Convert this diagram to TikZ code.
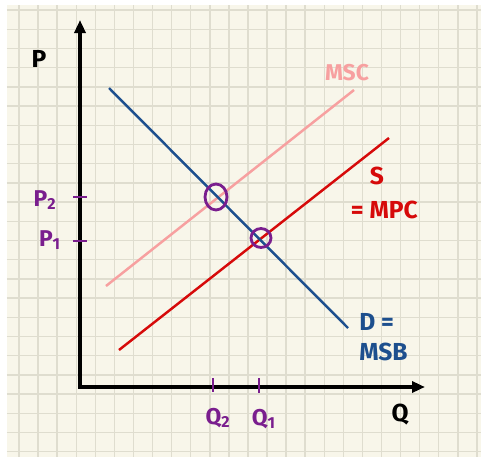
\documentclass[tikz,border=0pt]{standalone}
\usepackage{fontspec}
\setmainfont{Fira Sans}
\usetikzlibrary{positioning, arrows.meta}

\definecolor{paper}{HTML}{F8F6EA}
\definecolor{gridgrey}{HTML}{DFDDCF}
\definecolor{msbblue}{HTML}{1D4F8E}
\definecolor{mpcred}{HTML}{D60A0A}
\definecolor{mscpink}{HTML}{F7A0A0}
\definecolor{eqpurple}{HTML}{7A1E8E}

\begin{document}
\begin{tikzpicture}[
    x=0.02cm, y=-0.02cm,
    % --- Styles ---
    gridline/.style={
        draw=gridgrey,
        line width=0.8pt
    },
    axis/.style={
        line width=2pt,
        {Triangle[length=2.6mm, width=2.2mm]}-{Triangle[length=2.6mm, width=2.2mm]}
    },
    curve/.style={
        line width=1.4pt
    },
    tick/.style={
        draw=eqpurple,
        line width=1.6pt
    },
    ring/.style={
        draw=eqpurple,
        line width=1.6pt
    },
    lbl/.style={
        inner sep=0pt,
        font=\fontsize{14}{16}\selectfont\bfseries
    },
    lblsmall/.style={
        inner sep=0pt,
        font=\fontsize{13}{15}\selectfont\bfseries
    }
]

% --- Paper ---
\useasboundingbox (0,0) rectangle (481,457);
\fill[white] (0,0) rectangle (481,457);
\fill[paper] (7,5) rectangle (481,457);
\foreach \i in {0,...,24}
    \draw[gridline] ({19+\i*19.08},5) -- ({19+\i*19.08},457);
\foreach \j in {0,...,23}
    \draw[gridline] (7,{10+\j*19.2}) -- (481,{10+\j*19.2});

% --- Coordinates ---
\coordinate (origin) at (80,387);
\coordinate (ytop) at (80,20);
\coordinate (xend) at (425,387);

\coordinate (msbstart) at (109,88);
\coordinate (msbend) at (348,328);
\coordinate (mscstart) at (106,286);
\coordinate (mscend) at (354,90);
\coordinate (mpcstart) at (119,350);
\coordinate (mpcend) at (389,138);

\coordinate (eqtwo) at (216,197);
\coordinate (eqone) at (261,238);

% --- Axes ---
\draw[axis] (ytop) -- (origin) -- (xend);

% --- Curves ---
\draw[curve, mscpink] (mscstart) -- (mscend);
\draw[curve, mpcred] (mpcstart) -- (mpcend);
\draw[curve, msbblue] (msbstart) -- (msbend);

% --- Equilibria ---
\draw[ring] (eqtwo) ellipse [x radius=11, y radius=13];
\draw[ring] (eqone) ellipse [x radius=10, y radius=9.5];

% --- Ticks ---
\coordinate (ptwoa) at (73,197);
\coordinate (ptwob) at (87,197);
\coordinate (ponea) at (73,241);
\coordinate (poneb) at (87,241);
\coordinate (qtwoa) at (213,378);
\coordinate (qtwob) at (213,392);
\coordinate (qonea) at (259,378);
\coordinate (qoneb) at (259,393);
\draw[tick] (ptwoa) -- (ptwob);
\draw[tick] (ponea) -- (poneb);
\draw[tick] (qtwoa) -- (qtwob);
\draw[tick] (qonea) -- (qoneb);

% --- Labels ---
\node[lbl] (plabel) at (39,59) {P};
\node[lbl] (qlabel) at (400,415) {Q};

\node[lblsmall, eqpurple] (ptwolabel) at (45,200) {P\textsubscript{2}};
\node[lblsmall, eqpurple] (ponelabel) at (50,240) {P\textsubscript{1}};
\node[lblsmall, eqpurple] (qtwolabel) at (218,418) {Q\textsubscript{2}};
\node[lblsmall, eqpurple] (qonelabel) at (264,419) {Q\textsubscript{1}};

\node[lblsmall, mscpink] (msclabel) at (347,73) {MSC};

\node[lbl, mpcred] (slabel) at (377,176) {S};
\node[lbl, mpcred, below=9pt of slabel.south east, anchor=north] (mpclabel) {= MPC};

\node[lbl, msbblue, anchor=west] (dlabel) at (359,322) {D =};
\node[lbl, msbblue, below=7pt of dlabel.south west, anchor=north west] (msblabel) {MSB};

\end{tikzpicture}
\end{document}
